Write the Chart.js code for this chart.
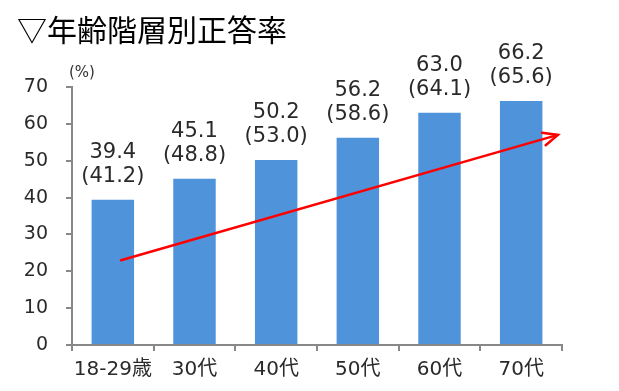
<!DOCTYPE html>
<html><head><meta charset="utf-8">
<script src="https://cdn.jsdelivr.net/npm/chart.js@4/dist/chart.umd.min.js"></script>
<style>html,body{margin:0;padding:0;background:#fff}#wrap{width:619px;height:391px}</style>
</head><body><div id="wrap"><canvas id="c" width="619" height="391"></canvas></div>
<script>
const categories = ["18-29歳","30代","40代","50代","60代","70代"];
const values = [39.4, 45.1, 50.2, 56.2, 63.0, 66.2];
const prevValues = [41.2, 48.8, 53.0, 58.6, 64.1, 65.6];
const yTicks = [0,10,20,30,40,50,60,70];
const arrowFrom = [0.1, 23];
const arrowTo = [5.45, 57];
const titleText = "▽年齢階層別正答率";
const unitText = "(%)";
const FONT = '"DejaVu Sans","Noto Sans CJK JP",sans-serif';
const TFONT = '"Noto Sans CJK JP",sans-serif';

const overlay = {
  id:'overlay',
  afterDatasetsDraw(chart){
    const ctx = chart.ctx, xs = chart.scales.x, ys = chart.scales.y;
    ctx.save();
    // data labels
    ctx.fillStyle = '#2a2a2a';
    ctx.font = '21px ' + FONT;
    ctx.textAlign = 'center'; ctx.textBaseline = 'middle';
    chart.getDatasetMeta(0).data.forEach((bar,i)=>{
      ctx.fillText(values[i].toFixed(1), bar.x, bar.y - 47);
      ctx.fillText('(' + prevValues[i].toFixed(1) + ')', bar.x, bar.y - 23);
    });
    // arrow
    const px = v => xs.getPixelForValue(0) + v * (xs.getPixelForValue(1) - xs.getPixelForValue(0));
    const x1 = px(arrowFrom[0]), y1 = ys.getPixelForValue(arrowFrom[1]);
    const x2 = px(arrowTo[0]), y2 = ys.getPixelForValue(arrowTo[1]);
    ctx.strokeStyle = '#FF0000'; ctx.lineWidth = 2.5; ctx.lineCap='round';
    ctx.beginPath(); ctx.moveTo(x1,y1); ctx.lineTo(x2,y2); ctx.stroke();
    const ang = Math.atan2(y2-y1, x2-x1), L = 16, a = 0.42;
    ctx.beginPath();
    ctx.moveTo(x2 - L*Math.cos(ang-a), y2 - L*Math.sin(ang-a));
    ctx.lineTo(x2,y2);
    ctx.lineTo(x2 - L*Math.cos(ang+a), y2 - L*Math.sin(ang+a));
    ctx.stroke();
    // title
    ctx.fillStyle = '#000';
    ctx.font = '30px ' + TFONT;
    ctx.textAlign = 'left'; ctx.textBaseline = 'middle';
    ctx.fillText(titleText, 17, 30);
    // unit
    ctx.fillStyle = '#333';
    ctx.font = '15px ' + FONT;
    ctx.textAlign = 'left';
    ctx.fillText(unitText, xs.left - 3, ys.top - 14);
    ctx.restore();
  }
};

new Chart(document.getElementById('c'), {
  type:'bar',
  data:{ labels: categories, datasets:[{ data: values, backgroundColor:'#4F94DA', categoryPercentage:1, barPercentage:0.52 }] },
  options:{
    responsive:false, animation:false,
    layout:{ padding:{ top:87, right:57, left:0, bottom:0 } },
    plugins:{ legend:{display:false}, tooltip:{enabled:false} },
    scales:{
      x:{
        grid:{ display:true, offset:true, drawOnChartArea:false, color:'#888', tickLength:6, lineWidth:2 },
        border:{ color:'#888', width:2 },
        ticks:{ color:'#2a2a2a', font:{ size:20, family:FONT }, padding:7, maxRotation:0, minRotation:0, autoSkip:false },
        afterFit(s){ s.height = 46; }
      },
      y:{
        min:0, max:70,
        afterBuildTicks(s){ s.ticks = yTicks.map(v=>({value:v})); },
        grid:{ display:true, drawOnChartArea:false, color:'#888', tickLength:6, lineWidth:2 },
        border:{ color:'#888', width:2 },
        ticks:{ color:'#2a2a2a', font:{ size:19, family:FONT }, padding:18 },
        afterFit(s){ s.width = 72; }
      }
    }
  },
  plugins:[overlay]
});
</script></body></html>
